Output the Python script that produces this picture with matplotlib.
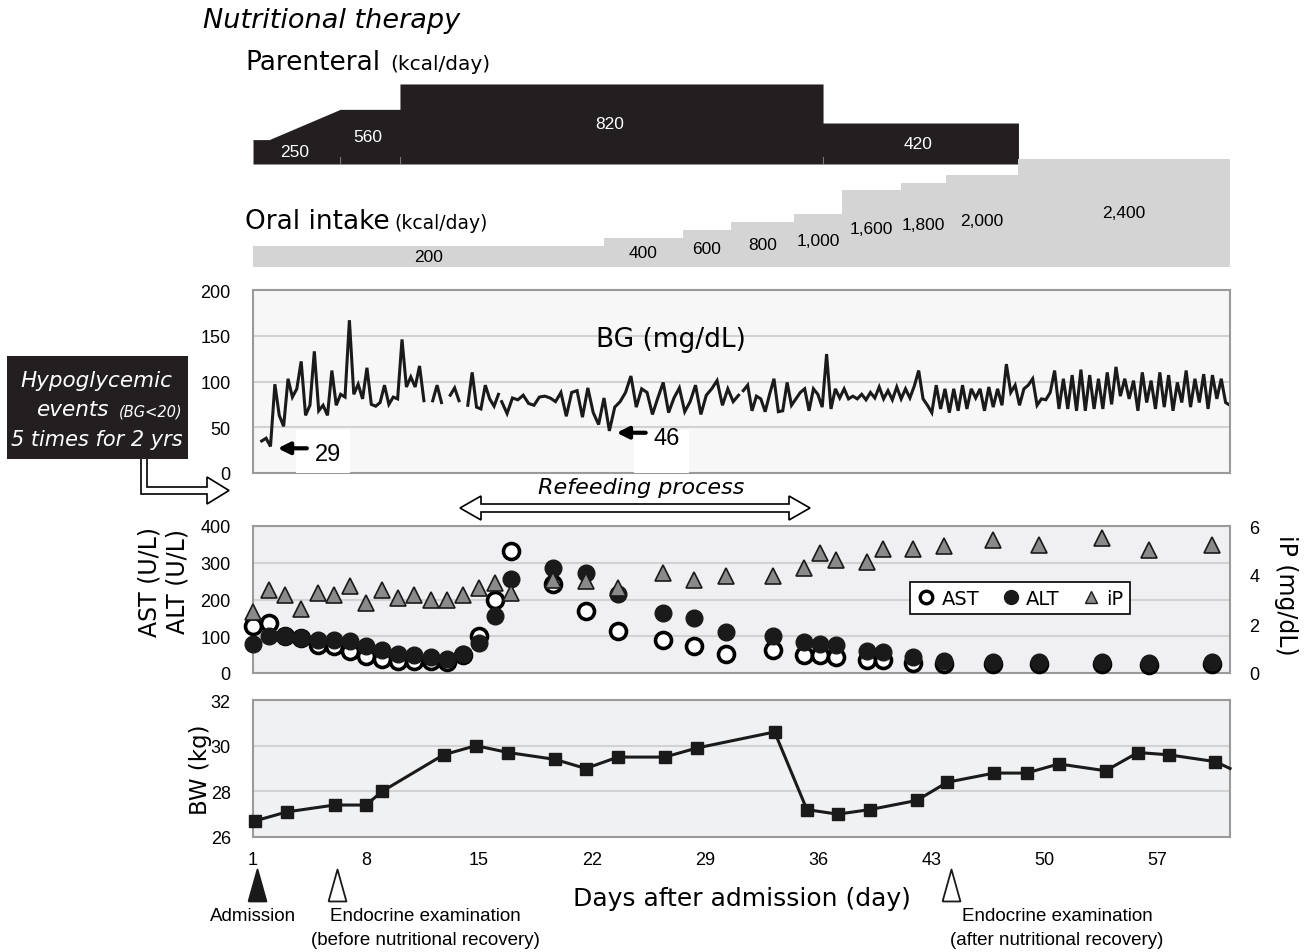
import numpy as np
import matplotlib.pyplot as plt
from matplotlib.patches import Rectangle, Polygon
from matplotlib.lines import Line2D
import matplotlib.transforms as mtransforms

plt.rcParams['font.family'] = ['DejaVu Sans']
NARROW = ['Liberation Sans', 'DejaVu Sans']

W, H = 1304, 953
XLIM = (1, 61.5)

# ---- nutritional therapy ----
par_days = [1, 2, 6.4, 10.1, 10.1, 36.3, 36.3, 48.4]
par_kcal = [250, 250, 560, 560, 820, 820, 420, 420]
par_label_txt = ['250', '560', '820', '420']
par_label_days = [3.6, 8.1, 23.1, 42.2]
par_label_kcal = [250, 560, 820, 420]
par_breaks = [6.4, 10.1, 36.3]

oral_edges = [1, 22.75, 27.6, 30.6, 34.5, 37.5, 41.1, 43.9, 48.4, 61.5]
oral_kcal = [200, 400, 600, 800, 1000, 1600, 1800, 2000, 2400]
oral_txt = ['200', '400', '600', '800', '1,000', '1,600', '1,800', '2,000', '2,400']
ORAL_BASE = -343

# ---- blood glucose (mg/dL), three runs of readings ----
nan = np.nan
bg_a = [35, 38, 29, 97, 63, 51, 103, 83, 92, 122, 63, 74, 133, 68, 74, 63, 112, 74,
        86, 83, 167, 86, 97, 81, 115, 75, 73, 77, 96, 75, 83, 81, 146, 94, 105, 94,
        117, 79, nan, 79, 96, 77, nan, 85, 93, 79, nan, 74, 110, 72, 70, 96, 81, 73, 86]
bg_b = [78, 65, 82, 80, 85, 76, 74, 83, 84, 82, 78, 88, 62, 88, 90, 61, 93, 66, 53, 82, 46,
        72, 78, 88, 106, 72, 92, 88, 64, 82, 99, 66, 82, 93, 67, 78, 96, 64, 85, 92,
        101, 74, 92, 78, 85]
bg_c = [90, 96, 68, 84, 81, 67, 86, 103, 67, 68, 99, 74, 81, 88, 92, 68, 92, 86, 72, 130,
        70, 92, 82, 92, 81, 84, 81, 86, 80, 88, 82, 94, 81, 90, 80, 94, 81, 92, 82, 95,
        112, 81, 74, 66, 96, 70, 92, 66, 92, 68, 96, 70, 92, 82, 92, 68, 94, 72, 92, 74,
        119, 88, 96, 74, 92, 96, 103, 74, 81, 80, 88, 112, 70, 103, 70, 107, 68, 113, 68, 107,
        70, 103, 70, 110, 75, 116, 84, 103, 81, 101, 68, 110, 77, 101, 70, 110, 72, 107, 68, 99,
        77, 112, 72, 103, 77, 108, 70, 107, 81, 103, 77, 74]
bg_spans = [(1.54, 16.2), (16.4, 31.07), (31.36, 61.5)]

# ---- liver enzymes / phosphate ----
lab_days = [1, 2, 3, 4, 5, 6, 7, 8, 9, 10, 11, 12, 13, 14, 15, 16, 17,
            19.6, 21.6, 23.6, 26.4, 28.3, 30.3, 33.2, 35.1, 36.1, 37.1, 39.0,
            40.0, 41.9, 43.8, 46.8, 49.7, 53.6, 56.5, 60.4]
ast = [127, 135, 100, 95, 77, 73, 59, 47, 38, 34, 34, 32, 29, 50, 100, 200, 332,
       241, 170, 115, 91, 73, 53, 62, 50, 50, 44, 35, 35, 27, 25, 24, 24, 24, 23, 24]
alt = [80, 102, 100, 95, 91, 91, 86, 73, 62, 53, 50, 44, 38, 53, 82, 155, 256,
       286, 271, 214, 164, 150, 111, 100, 84, 80, 75, 59, 56, 44, 33, 29, 29, 29, 27, 29]
ip = [2.48, 3.38, 3.17, 2.6, 3.27, 3.2, 3.57, 2.86, 3.38, 3.07, 3.17, 2.97, 2.97, 3.17,
      3.48, 3.68, 3.25, 3.78, 3.75, 3.48, 4.09, 3.78, 3.96, 3.96, 4.3, 4.9, 4.6, 4.53,
      5.05, 5.07, 5.18, 5.43, 5.21, 5.53, 5.02, 5.21]

# ---- body weight (kg); last pair is where the line leaves the frame ----
bw_days = [1.1, 3.1, 6.05, 8.0, 9.0, 12.8, 14.8, 16.8, 19.7, 21.6, 23.6, 26.5, 28.5,
           33.3, 35.3, 37.2, 39.2, 42.1, 44.0, 46.9, 48.9, 50.9, 53.8, 55.8, 57.7, 60.6, 61.5]
bw = [26.7, 27.1, 27.4, 27.4, 28.0, 29.6, 30.0, 29.7, 29.4, 29.0, 29.5, 29.5, 29.9,
      30.6, 27.2, 27.0, 27.2, 27.6, 28.4, 28.8, 28.8, 29.2, 28.9, 29.7, 29.6, 29.3, 29.0]

day_ticks = [1, 8, 15, 22, 29, 36, 43, 50, 57]
event_days = [1.25, 6.2, 44.2]
event_filled = [True, False, False]


def rect(l, t, r, b):
    return [l / W, 1 - b / H, (r - l) / W, (b - t) / H]


def fpt(x, y):
    return (x / W, 1 - y / H)


def style_panel(ax, face):
    ax.set_facecolor(face)
    for s in ax.spines.values():
        s.set_color('#9a9a9a')
        s.set_linewidth(1.5)
    ax.yaxis.grid(True, color='#d2d2d2', lw=1.5)
    ax.set_axisbelow(True)
    ax.tick_params(length=0, labelsize=13, pad=16)
    for lab in ax.get_yticklabels():
        lab.set_family(NARROW)
    ax.set_xlim(*XLIM)
    ax.set_xticks([])


fig = plt.figure(figsize=(13.04, 9.53), dpi=100)

# ---------------- nutrition bars ----------------
ax_par = fig.add_axes(rect(253, 80, 1230, 165))
ax_par.axis('off')
ax_par.set_xlim(*XLIM)
ax_par.set_ylim(0, 871)
ax_par.fill_between(par_days, par_kcal, 0, color='#231f20', lw=0)
for d in par_breaks:
    ax_par.plot([d, d], [0, 70], color='#777777', lw=0.8)
for t, d, k in zip(par_label_txt, par_label_days, par_label_kcal):
    ax_par.text(d, k * 0.5, t, color='white', fontsize=12.5, ha='center', va='center',
                family=NARROW)

ax_oral = fig.add_axes(rect(253, 140, 1230, 268))
ax_oral.axis('off')
ax_oral.set_xlim(*XLIM)
ax_oral.set_ylim(ORAL_BASE, 2906)
ax_oral.stairs(oral_kcal, oral_edges, baseline=ORAL_BASE, fill=True, color='#d4d4d4')
for i, (t, k) in enumerate(zip(oral_txt, oral_kcal)):
    xc = (oral_edges[i] + oral_edges[i + 1]) / 2
    ax_oral.text(xc, (k + ORAL_BASE) / 2, t, fontsize=12.5, ha='center', va='center',
                 family=NARROW)

fig.text(*fpt(203, 28), 'Nutritional therapy', style='italic', fontsize=19.5, va='baseline')
fig.text(*fpt(245, 70), 'Parenteral', fontsize=19, va='baseline')
fig.text(*fpt(390, 70), '(kcal/day)', fontsize=14.5, va='baseline')
fig.text(*fpt(245, 229), 'Oral intake', fontsize=19, va='baseline')
fig.text(*fpt(394, 229), '(kcal/day)', fontsize=13.5, va='baseline')

# ---------------- blood glucose ----------------
ax_bg = fig.add_axes(rect(253, 291, 1230, 474))
ax_bg.set_ylim(0, 200)
ax_bg.set_yticks([0, 50, 100, 150, 200])
style_panel(ax_bg, '#f7f7f7')
for vals, (d0, d1) in zip([bg_a, bg_b, bg_c], bg_spans):
    ax_bg.plot(np.linspace(d0, d1, len(vals)), vals, color='#1a1a1a', lw=2.2,
               solid_joinstyle='miter')
fig.text(*fpt(671, 340), 'BG (mg/dL)', fontsize=19, ha='center', va='center')

# low-point callouts
for vals, (d0, d1) in zip([bg_a, bg_b], bg_spans[:2]):
    xs = np.linspace(d0, d1, len(vals))
    i = int(np.nanargmin(vals))
    xmin, vmin = xs[i], vals[i]
    tip = xmin + 0.45
    ax_bg.add_patch(Rectangle((tip + 1.1, 0.5), 3.4, 47, fc='white', ec='none', zorder=3))
    ax_bg.annotate('', xy=(tip, vmin - 2), xytext=(tip + 1.8, vmin - 2),
                   arrowprops=dict(arrowstyle='-|>,head_length=0.7,head_width=0.35',
                                   lw=3, color='black', shrinkA=0, shrinkB=0), zorder=4)
    ax_bg.text(tip + 3.1, vmin - 8, str(vmin), fontsize=17, family=NARROW,
               ha='center', va='center', zorder=5)

# ---------------- AST / ALT / iP ----------------
ax_lab = fig.add_axes(rect(253, 527, 1230, 674))
ax_lab.set_ylim(0, 400)
ax_lab.set_yticks([0, 100, 200, 300, 400])
style_panel(ax_lab, '#f0f0f2')
ax_lab.plot(lab_days, ast, ls='', marker='o', ms=11.5, mfc='white', mec='black',
            mew=2.6, clip_on=False, zorder=3)
ax_lab.plot(lab_days, alt, ls='', marker='o', ms=12, mfc='#1a1a1a', mec='#1a1a1a',
            clip_on=False, zorder=4)
ax_ip = ax_lab.twinx()
ax_ip.set_ylim(0, 6)
ax_ip.set_yticks([0, 2, 4, 6])
ax_ip.tick_params(length=0, labelsize=13, pad=14)
for lab in ax_ip.get_yticklabels():
    lab.set_family(NARROW)
for s in ax_ip.spines.values():
    s.set_visible(False)
ax_ip.plot(lab_days, ip, ls='', marker='^', ms=11, mfc='#8a8a8a', mec='#1a1a1a',
           mew=1.2, clip_on=False)
handles = [Line2D([], [], ls='', marker='o', ms=9, mfc='white', mec='black', mew=2.4),
           Line2D([], [], ls='', marker='o', ms=10, mfc='#1a1a1a', mec='#1a1a1a'),
           Line2D([], [], ls='', marker='^', ms=9, mfc='#8a8a8a', mec='#1a1a1a', mew=1)]
leg = ax_ip.legend(handles, ['AST', 'ALT', 'iP'], ncol=3, loc='center',
                   bbox_to_anchor=(0.785, 0.51), fontsize=14, frameon=True,
                   fancybox=False, edgecolor='black', framealpha=1,
                   handletextpad=0.3, columnspacing=1.1, handlelength=1.0,
                   borderpad=0.35)
leg.get_frame().set_linewidth(1.2)

fig.text(*fpt(150, 582), 'AST (U/L)', rotation=90, fontsize=17, ha='center', va='center')
fig.text(*fpt(177, 582), 'ALT (U/L)', rotation=90, fontsize=17, ha='center', va='center')
fig.text(*fpt(1286, 595), 'iP (mg/dL)', rotation=-90, fontsize=17, ha='center', va='center')

# ---------------- body weight ----------------
ax_bw = fig.add_axes(rect(253, 701, 1230, 838))
ax_bw.set_ylim(26, 32)
ax_bw.set_yticks([26, 28, 30, 32])
style_panel(ax_bw, '#f0f1f3')
ax_bw.set_xticks(day_ticks)
ax_bw.tick_params(axis='x', pad=10)
for lab in ax_bw.get_xticklabels():
    lab.set_family(NARROW)
ax_bw.plot(bw_days, bw, color='#1a1a1a', lw=2.2, marker='s', ms=8.5,
           markevery=list(range(len(bw) - 1)), clip_on=False, zorder=3)
fig.text(*fpt(200, 770), 'BW (kg)', rotation=90, fontsize=16.5, ha='center', va='center')
fig.text(*fpt(742, 899), 'Days after admission (day)', fontsize=18, ha='center', va='center')

# event markers below the axis
tri = [(-0.28, -0.5), (0.28, -0.5), (0, 0.5), (-0.28, -0.5)]
btrans = mtransforms.blended_transform_factory(ax_bw.transData, fig.transFigure)
for d, filled in zip(event_days, event_filled):
    ax_bw.plot([d], [1 - 886 / H], transform=btrans, marker=tri, ms=23,
               mfc='#1a1a1a' if filled else 'white', mec='#1a1a1a', mew=1.3,
               clip_on=False, ls='')
for x, y, s in [(253, 917, 'Admission'),
                (425, 917, 'Endocrine examination'),
                (425, 941, '(before nutritional recovery)'),
                (1057, 917, 'Endocrine examination'),
                (1057, 941, '(after nutritional recovery)')]:
    fig.text(*fpt(x, y), s, fontsize=13.5, family=NARROW, ha='center', va='center')

# ---------------- hypoglycemia box and hollow arrows ----------------
bent = [(141, 456), (141, 495), (207, 495), (207, 505), (229, 491.5), (207, 478),
        (207, 488), (147, 488), (147, 456)]
fig.add_artist(Polygon([fpt(x, y) for x, y in bent], closed=True, fc='white',
                       ec='black', lw=1.2, transform=fig.transFigure, zorder=2))
fig.add_artist(Rectangle(fpt(7, 460), 181 / W, 103 / H, transform=fig.transFigure,
                         fc='#231f20', ec='none', zorder=3))
fig.text(*fpt(96, 381), 'Hypoglycemic', color='white', style='italic', fontsize=15.5,
         ha='center', va='center', zorder=4)
fig.text(*fpt(36, 410), 'events', color='white', style='italic', fontsize=15.5,
         ha='left', va='center', zorder=4)
fig.text(*fpt(119, 412), '(BG<20)', color='white', style='italic', fontsize=10.5,
         ha='left', va='center', zorder=4)
fig.text(*fpt(97, 440), '5 times for 2 yrs', color='white', style='italic', fontsize=15,
         ha='center', va='center', zorder=4)

refeed = [(460, 509), (481, 497), (481, 505), (789, 505), (789, 497), (810, 509),
          (789, 521), (789, 513), (481, 513), (481, 521)]
fig.add_artist(Polygon([fpt(x, y) for x, y in refeed], closed=True, fc='white',
                       ec='black', lw=1.2, transform=fig.transFigure))
fig.text(*fpt(641, 488), 'Refeeding process', style='italic', fontsize=16,
         ha='center', va='center')

fig.savefig('out.png', dpi=100)
